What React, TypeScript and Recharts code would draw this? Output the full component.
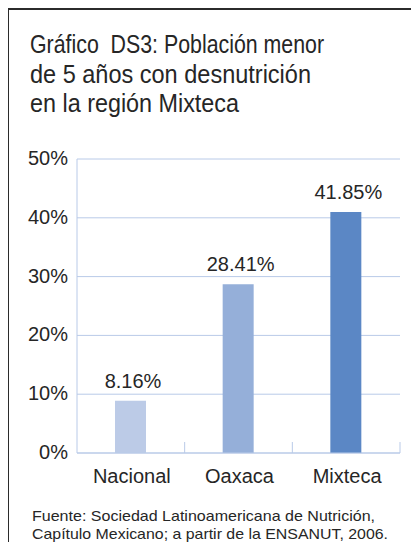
import { Bar, BarChart, CartesianGrid, Cell, LabelList, XAxis, YAxis } from 'recharts';

const categories = ['Nacional', 'Oaxaca', 'Mixteca'];
const barValues = [8.9, 28.7, 41.0];
const valueLabels = ['8.16%', '28.41%', '41.85%'];
const yTicks = [0, 10, 20, 30, 40, 50];
const barColors = ['#BCCBE7', '#95AFD9', '#5B87C5'];
const titleLines = ['Gráfico  DS3: Población menor', 'de 5 años con desnutrición', 'en la región Mixteca'];
const sourceLines = [
  'Fuente: Sociedad Latinoamericana de Nutrición,',
  'Capítulo Mexicano; a partir de la ENSANUT, 2006.',
];

const GRID = '#B9CAE8';
const INK = '#262626';
const FONT = '"Liberation Sans", Arial, sans-serif';

// widths of the stretched/narrowed text lines in the reference
const titleWidths = [294, 281, 209];
const sourceWidths = [343, 356];

const data = categories.map((name, i) => ({ name, value: barValues[i], label: valueLabels[i] }));

function YTick({ x, y, payload }: any) {
  return (
    <text x={x - 1} y={y} dy={6} textAnchor="end" fontSize={20} fill={INK} fontFamily={FONT}>
      {`${payload.value}%`}
    </text>
  );
}

function XTick({ x, y, payload }: any) {
  const half = payload.offset ?? 53.8;
  return (
    <g>
      <line x1={x + half} y1={y} x2={x + half} y2={y - 11} stroke={GRID} strokeWidth={1} />
      <text x={x + 1} y={y + 30} textAnchor="middle" fontSize={20} fill={INK} fontFamily={FONT}>
        {payload.value}
      </text>
    </g>
  );
}

function ValueLabel({ x, y, width, value }: any) {
  return (
    <text x={x + width / 2 + 2.5} y={y - 13} textAnchor="middle" fontSize={20} fill={INK} fontFamily={FONT}>
      {value}
    </text>
  );
}

export default function App() {
  return (
    <div
      style={{
        position: 'relative',
        width: 419,
        height: 550,
        margin: -8,
        overflow: 'hidden',
        background: '#fff',
        fontFamily: FONT,
      }}
    >
      <div
        style={{
          position: 'absolute',
          left: 6,
          top: 7,
          width: 420,
          height: 550,
          borderTop: '3px solid #2b2b2b',
          borderLeft: '3px solid #2b2b2b',
        }}
      />
      <div style={{ position: 'absolute', left: 0, top: 0 }}>
        <BarChart width={419} height={550} data={data} margin={{ top: 159, right: 19, bottom: 57, left: 0 }}>
          <CartesianGrid stroke={GRID} vertical={false} />
          <XAxis
            dataKey="name"
            height={40}
            interval={0}
            axisLine={{ stroke: GRID }}
            tickLine={false}
            tickSize={0}
            tickMargin={0}
            tick={<XTick />}
          />
          <YAxis
            width={77}
            domain={[0, 50]}
            ticks={yTicks}
            allowDataOverflow
            axisLine={{ stroke: GRID }}
            tickLine={false}
            tick={<YTick />}
          />
          <Bar dataKey="value" barSize={31} isAnimationActive={false}>
            {data.map((d, i) => (
              <Cell key={d.name} fill={barColors[i]} />
            ))}
            <LabelList dataKey="label" content={<ValueLabel />} />
          </Bar>
        </BarChart>
      </div>
      <svg width={419} height={550} style={{ position: 'absolute', left: 0, top: 0, pointerEvents: 'none' }}>
        {titleLines.map((t, i) => (
          <text
            key={t}
            x={30}
            y={53 + i * 29.5}
            fontSize={25}
            fill={INK}
            fontFamily={FONT}
            textLength={titleWidths[i]}
            lengthAdjust="spacingAndGlyphs"
            style={{ whiteSpace: 'pre' }}
          >
            {t}
          </text>
        ))}
        {sourceLines.map((t, i) => (
          <text
            key={t}
            x={32}
            y={521 + i * 18}
            fontSize={15}
            fill={INK}
            fontFamily={FONT}
            textLength={sourceWidths[i]}
            lengthAdjust="spacingAndGlyphs"
          >
            {t}
          </text>
        ))}
      </svg>
    </div>
  );
}
